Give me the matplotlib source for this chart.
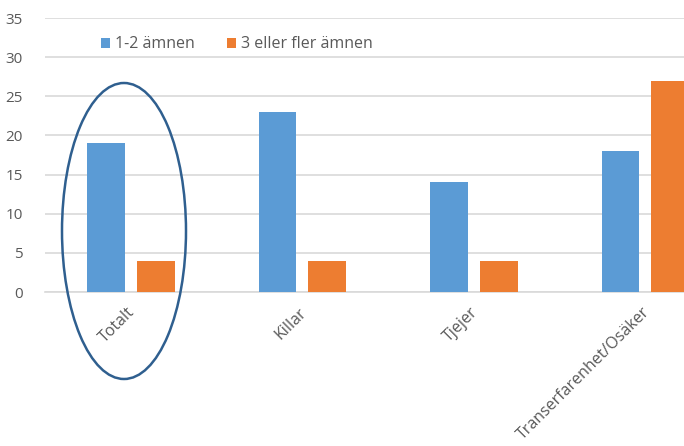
import matplotlib
matplotlib.use("Agg")
import matplotlib.pyplot as plt
from matplotlib.patches import Ellipse
from matplotlib.transforms import ScaledTranslation
import numpy as np

categories = ["Totalt", "Killar", "Tjejer", "Transerfarenhet/Osäker"]
series_names = ["1-2 ämnen", "3 eller fler ämnen"]
values_few = [19, 23, 14, 18]
values_many = [4, 4, 4, 27]
colors = ["#5B9BD5", "#ED7D31"]

plt.rcParams['font.family'] = ['Open Sans', 'DejaVu Sans']

fig = plt.figure(figsize=(6.84, 4.46), dpi=100)
ax = fig.add_axes([45 / 684, 154 / 446, 1 - 45 / 684, 274 / 446])

x = np.arange(len(categories))
w = 0.22
ax.bar(x - 0.145, values_few, w, color=colors[0], label=series_names[0], zorder=3)
ax.bar(x + 0.145, values_many, w, color=colors[1], label=series_names[1], zorder=3)

ax.set_xlim(-0.5, 3.225)
ax.set_ylim(0, 35)
ax.set_yticks(range(0, 36, 5))
ax.yaxis.grid(True, color="#D9D9D9", linewidth=1.2, zorder=0)
for s in ["top", "right", "left"]:
    ax.spines[s].set_visible(False)
ax.spines["bottom"].set_color("#D9D9D9")
ax.spines["bottom"].set_linewidth(1.2)
ax.tick_params(axis="both", length=0, colors="#595959")
ax.tick_params(axis="y", pad=16, labelsize=11)
ax.tick_params(axis="x", pad=9, labelsize=11.5)
ax.set_xticks(x)
ax.set_xticklabels(categories, rotation=45, ha="right", rotation_mode="anchor")
for lbl in ax.get_xticklabels():
    lbl.set_transform(lbl.get_transform() + ScaledTranslation(-0.04, 0, fig.dpi_scale_trans))

leg = ax.legend(loc="upper left", bbox_to_anchor=(0.065, 0.985), ncol=2, frameon=False,
                fontsize=11.5, handlelength=0.55, handleheight=0.55, handletextpad=0.35,
                columnspacing=2.0, labelcolor="#595959")

# ring around the Totalt group
ell = Ellipse((124 / 684, 1 - 231 / 446), 124 / 684, 296 / 446, transform=fig.transFigure,
              fill=False, edgecolor="#2F5F8F", linewidth=1.8, clip_on=False)
fig.patches.append(ell)

fig.savefig("out.png", dpi=100)
